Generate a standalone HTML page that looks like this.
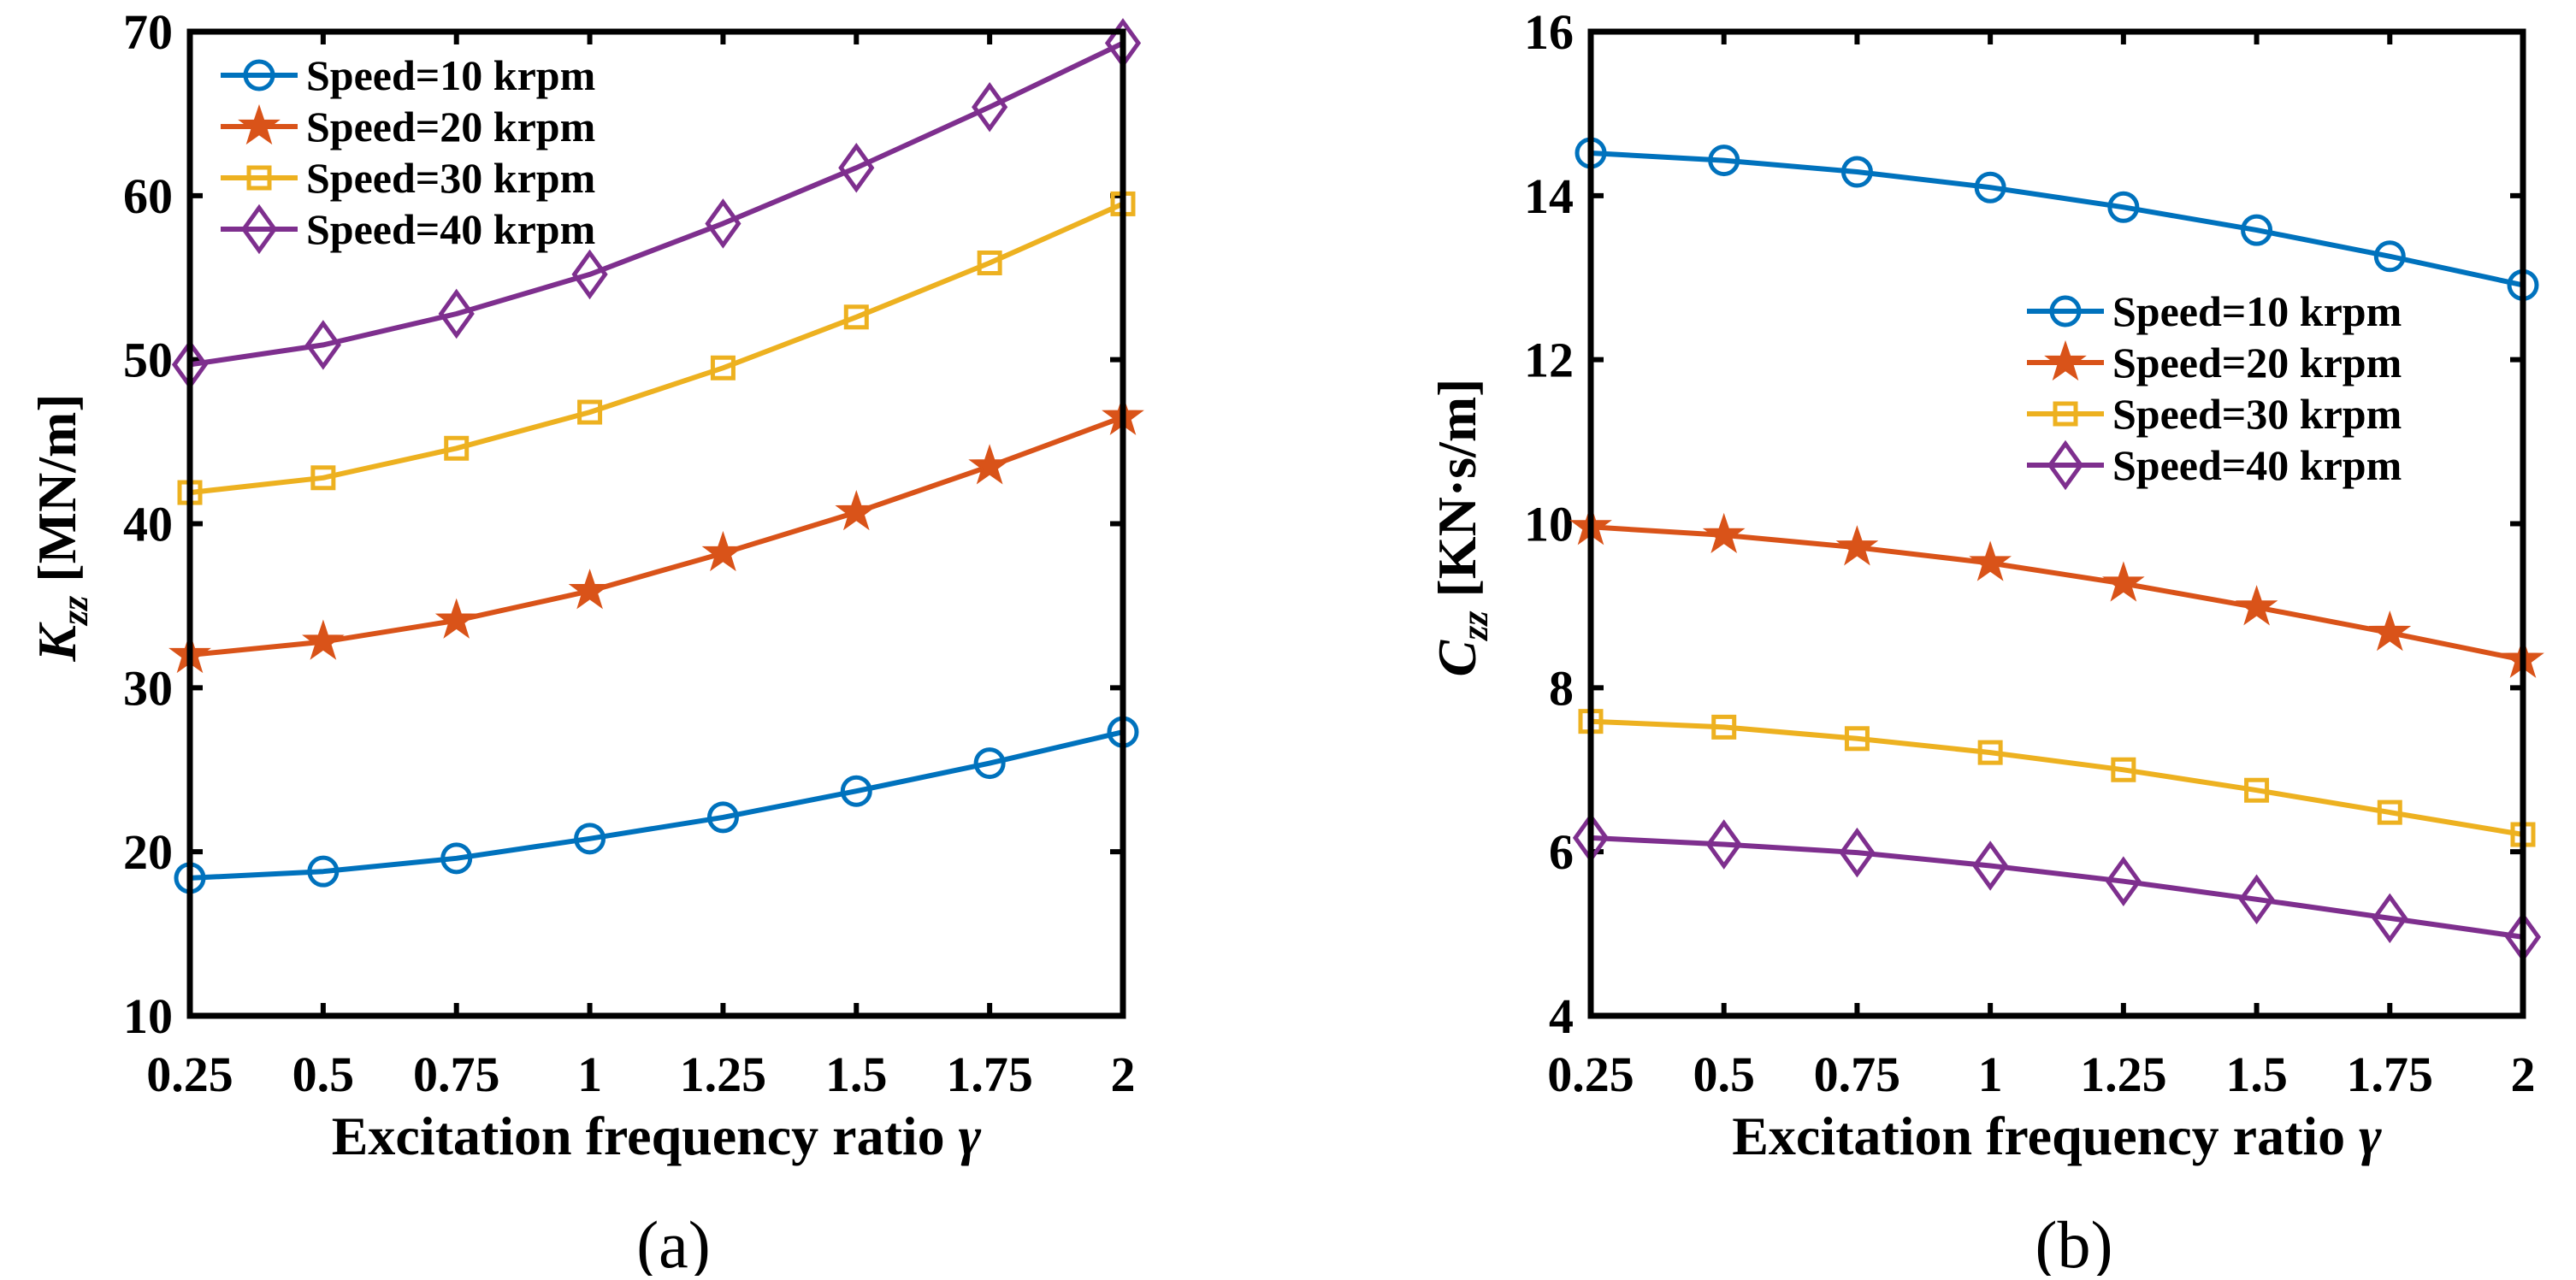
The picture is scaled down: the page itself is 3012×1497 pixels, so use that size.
<!DOCTYPE html>
<html><head><meta charset="utf-8"><style>
html,body{margin:0;padding:0;background:#fff;}
svg, svg text{font-family:"Liberation Serif","Times New Roman","DejaVu Serif",serif;}
</style></head><body>
<svg id="fig" width="3012" height="1492" viewBox="0 0 3012 1492" xmlns="http://www.w3.org/2000/svg" font-family="Liberation Serif, serif">
<g id="pa"></g>
<g id="pb"></g>
</svg>
<script>
const xCats = [0.25,0.5,0.75,1,1.25,1.5,1.75,2];
const xTickLabels = ["0.25","0.5","0.75","1","1.25","1.5","1.75","2"];
const seriesNames = ["Speed=10 krpm","Speed=20 krpm","Speed=30 krpm","Speed=40 krpm"];
const kzz10 = [18.4,18.8,19.6,20.8,22.1,23.7,25.4,27.3];
const kzz20 = [32.0,32.8,34.1,35.9,38.2,40.7,43.5,46.5];
const kzz30 = [41.9,42.8,44.6,46.8,49.5,52.6,55.9,59.5];
const kzz40 = [49.7,50.9,52.8,55.2,58.3,61.7,65.4,69.3];
const czz10 = [14.52,14.43,14.29,14.10,13.86,13.58,13.26,12.91];
const czz20 = [9.96,9.86,9.71,9.52,9.27,8.98,8.67,8.34];
const czz30 = [7.59,7.52,7.38,7.21,7.00,6.75,6.48,6.21];
const czz40 = [6.17,6.09,5.99,5.83,5.64,5.42,5.19,4.96];
const kTicks = [10,20,30,40,50,60,70];
const cTicks = [4,6,8,10,12,14,16];

const NS="http://www.w3.org/2000/svg";
const FF="Liberation Serif, Times New Roman, DejaVu Serif, serif";
const colors=["#0072BD","#D95319","#EDB120","#7E2F8E"];
const markers=["circle","star","square","diamond"];
function mk(tag,attrs,parent){const e=document.createElementNS(NS,tag);for(const k in attrs)e.setAttribute(k,attrs[k]);if(tag==="text")e.setAttribute("font-family",FF);parent.appendChild(e);return e;}

function drawMarker(type,x,y,col,g){
  let e;
  if(type==="circle"){e=mk("circle",{cx:x,cy:y,r:16,fill:"none",stroke:col,"stroke-width":5},g);}
  else if(type==="square"){e=mk("rect",{x:x-12,y:y-12,width:24,height:24,fill:"none",stroke:col,"stroke-width":5},g);}
  else if(type==="diamond"){e=mk("polygon",{points:`${x},${y-25} ${x+18},${y} ${x},${y+25} ${x-18},${y}`,fill:"none",stroke:col,"stroke-width":5},g);}
  else{let p=[];for(let i=0;i<10;i++){const r=i%2?9:23;const a=-Math.PI/2+i*Math.PI/5;p.push((x+r*Math.cos(a)).toFixed(1)+","+(y+r*Math.sin(a)).toFixed(1));}
    e=mk("polygon",{points:p.join(" "),fill:col,stroke:col,"stroke-width":2},g);}
  
  
}

function panel(g,L,R,T,B,ymin,ymax,yTicks,series,ylab,unit,legX,legY,letter,ylabX){
  const sx=v=>L+(v-xCats[0])/(xCats[xCats.length-1]-xCats[0])*(R-L);
  const sy=v=>B-(v-ymin)/(ymax-ymin)*(B-T);
  yTicks.forEach(t=>{
    const y=sy(t);
    const tk=mk("path",{d:`M${L},${y}h15M${R},${y}h-15`,stroke:"#000","stroke-width":6},g);
    
    
    const tx=mk("text",{x:L-20,y:y+20,"text-anchor":"end","font-size":58,"font-weight":"bold"},g);
    tx.textContent=t;
    
    
  });
  xCats.forEach((c,i)=>{
    const x=sx(c);
    const tk=mk("path",{d:`M${x},${B}v-15M${x},${T}v15`,stroke:"#000","stroke-width":6},g);
    
    
    const tx=mk("text",{x:x,y:B+88,"text-anchor":"middle","font-size":58,"font-weight":"bold"},g);
    tx.textContent=xTickLabels[i];
    
    
  });
  series.forEach((s,k)=>{
    const sg=mk("g",{},g);
    
    
    const pts=s.map((v,i)=>sx(xCats[i]).toFixed(1)+","+sy(v).toFixed(1)).join(" ");
    const pl=mk("polyline",{points:pts,fill:"none",stroke:colors[k],"stroke-width":6,"stroke-linejoin":"round"},sg);
    
    
    s.forEach((v,i)=>drawMarker(markers[k],sx(xCats[i]),sy(v),colors[k],sg));
  });
  const fr=mk("rect",{x:L,y:T,width:R-L,height:B-T,fill:"none",stroke:"#000","stroke-width":7},g);
  
  
  const lg=mk("g",{},g);
  
  
  seriesNames.forEach((n,k)=>{
    const y=legY+k*60;
    const eg=mk("g",{},lg);
    
    
    mk("line",{x1:legX,y1:y,x2:legX+90,y2:y,stroke:colors[k],"stroke-width":6},eg);
    drawMarker(markers[k],legX+45,y,colors[k],eg);
    const t=mk("text",{x:legX+100,y:y+17,"font-size":50,"font-weight":"bold"},eg);
    t.textContent=n;
  });
  const xl=mk("text",{x:(L+R)/2,y:B+162,"text-anchor":"middle","font-size":64,"font-weight":"bold"},g);
  xl.innerHTML='Excitation frequency ratio <tspan font-style="italic">γ</tspan>';
  
  
  const cy=617;
  const yl=mk("text",{x:0,y:0,transform:`translate(${ylabX},${cy}) rotate(-90)`,"text-anchor":"middle","font-size":64,"font-weight":"bold"},g);
  yl.innerHTML=`<tspan font-style="italic">${ylab}</tspan><tspan font-style="italic" font-size="44" dy="14">zz</tspan><tspan dy="-14"> ${unit}</tspan>`;
  
  
  const pl=mk("text",{x:(L+R)/2+20,y:1482,"text-anchor":"middle","font-size":78},g);
  pl.textContent=letter;
  
  
}
panel(document.getElementById("pa"),222,1313,37,1188,10,70,kTicks,[kzz10,kzz20,kzz30,kzz40],"K","[MN/m]",258,88,"(a)",88);
panel(document.getElementById("pb"),1860,2950,37,1188,4,16,cTicks,[czz10,czz20,czz30,czz40],"C","[KN·s/m]",2370,364,"(b)",1725);
</script>
</body></html>
